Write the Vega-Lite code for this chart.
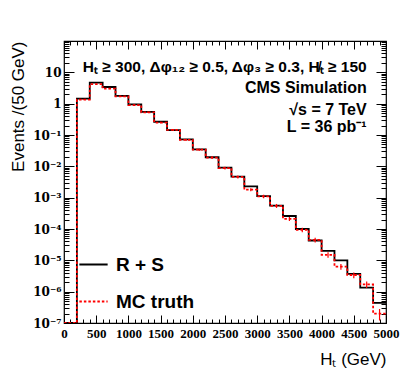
{
  "$schema": "https://vega.github.io/schema/vega-lite/v6.json",
  "width": 322,
  "height": 282,
  "autosize": "none",
  "padding": {"left": 64, "top": 41, "right": 21, "bottom": 54},
  "background": "white",
  "config": {
    "view": {"stroke": "black", "strokeWidth": 1.2},
    "axis": {"grid": false, "domain": false, "tickColor": "black", "tickWidth": 1}
  },
  "datasets": {
    "hist": [
      {"HT": 0, "events": 1e-9, "series": "R + S"},
      {"HT": 200, "events": 1.45, "series": "R + S"},
      {"HT": 400, "events": 4.7, "series": "R + S"},
      {"HT": 600, "events": 3.4, "series": "R + S"},
      {"HT": 800, "events": 1.76, "series": "R + S"},
      {"HT": 1000, "events": 0.95, "series": "R + S"},
      {"HT": 1200, "events": 0.55, "series": "R + S"},
      {"HT": 1400, "events": 0.265, "series": "R + S"},
      {"HT": 1600, "events": 0.144, "series": "R + S"},
      {"HT": 1800, "events": 0.073, "series": "R + S"},
      {"HT": 2000, "events": 0.035, "series": "R + S"},
      {"HT": 2200, "events": 0.0195, "series": "R + S"},
      {"HT": 2400, "events": 0.0091, "series": "R + S"},
      {"HT": 2600, "events": 0.0047, "series": "R + S"},
      {"HT": 2800, "events": 0.0023, "series": "R + S"},
      {"HT": 3000, "events": 0.00112, "series": "R + S"},
      {"HT": 3200, "events": 0.00056, "series": "R + S"},
      {"HT": 3400, "events": 0.00026, "series": "R + S"},
      {"HT": 3600, "events": 1.0e-4, "series": "R + S"},
      {"HT": 3800, "events": 4.3e-5, "series": "R + S"},
      {"HT": 4000, "events": 2.0e-5, "series": "R + S"},
      {"HT": 4200, "events": 1.0e-5, "series": "R + S"},
      {"HT": 4400, "events": 3.7e-6, "series": "R + S"},
      {"HT": 4600, "events": 1.35e-6, "series": "R + S"},
      {"HT": 4800, "events": 4.4e-7, "series": "R + S"},
      {"HT": 5000, "events": 4.4e-7, "series": "R + S"},
      {"HT": 0, "events": 1e-9, "series": "MC truth"},
      {"HT": 200, "events": 1.35, "series": "MC truth"},
      {"HT": 400, "events": 4.2, "series": "MC truth"},
      {"HT": 600, "events": 3.0, "series": "MC truth"},
      {"HT": 800, "events": 1.7, "series": "MC truth"},
      {"HT": 1000, "events": 0.9, "series": "MC truth"},
      {"HT": 1200, "events": 0.53, "series": "MC truth"},
      {"HT": 1400, "events": 0.25, "series": "MC truth"},
      {"HT": 1600, "events": 0.145, "series": "MC truth"},
      {"HT": 1800, "events": 0.07, "series": "MC truth"},
      {"HT": 2000, "events": 0.034, "series": "MC truth"},
      {"HT": 2200, "events": 0.019, "series": "MC truth"},
      {"HT": 2400, "events": 0.0088, "series": "MC truth"},
      {"HT": 2600, "events": 0.0046, "series": "MC truth"},
      {"HT": 2800, "events": 0.0018, "series": "MC truth"},
      {"HT": 3000, "events": 0.0011, "series": "MC truth"},
      {"HT": 3200, "events": 0.00055, "series": "MC truth"},
      {"HT": 3400, "events": 0.00021, "series": "MC truth"},
      {"HT": 3600, "events": 9.4e-5, "series": "MC truth"},
      {"HT": 3800, "events": 4.5e-5, "series": "MC truth"},
      {"HT": 4000, "events": 1.5e-5, "series": "MC truth"},
      {"HT": 4200, "events": 6.3e-6, "series": "MC truth"},
      {"HT": 4400, "events": 3.4e-6, "series": "MC truth"},
      {"HT": 4600, "events": 1.7e-6, "series": "MC truth"},
      {"HT": 4800, "events": 2.0e-7, "series": "MC truth"},
      {"HT": 5000, "events": 2.0e-7, "series": "MC truth"}
    ],
    "errs": [
      {"center": 300, "lo": 1.31, "hi": 1.39},
      {"center": 500, "lo": 4.08, "hi": 4.32},
      {"center": 700, "lo": 2.91, "hi": 3.09},
      {"center": 900, "lo": 1.63, "hi": 1.77},
      {"center": 1100, "lo": 0.86, "hi": 0.94},
      {"center": 1300, "lo": 0.5, "hi": 0.56},
      {"center": 1500, "lo": 0.235, "hi": 0.265},
      {"center": 1700, "lo": 0.135, "hi": 0.155},
      {"center": 1900, "lo": 0.065, "hi": 0.075},
      {"center": 2100, "lo": 0.031, "hi": 0.037},
      {"center": 2300, "lo": 0.017, "hi": 0.021},
      {"center": 2500, "lo": 0.0079, "hi": 0.0097},
      {"center": 2700, "lo": 0.0041, "hi": 0.0051},
      {"center": 2900, "lo": 0.0016, "hi": 0.002},
      {"center": 3100, "lo": 0.00096, "hi": 0.00124},
      {"center": 3300, "lo": 0.00047, "hi": 0.00063},
      {"center": 3500, "lo": 0.00018, "hi": 0.00024},
      {"center": 3700, "lo": 7.9e-5, "hi": 1.09e-4},
      {"center": 3900, "lo": 3.7e-5, "hi": 5.3e-5},
      {"center": 4100, "lo": 1.2e-5, "hi": 1.8e-5},
      {"center": 4300, "lo": 5.0e-6, "hi": 7.6e-6},
      {"center": 4500, "lo": 2.7e-6, "hi": 4.1e-6},
      {"center": 4700, "lo": 1.3e-6, "hi": 2.1e-6},
      {"center": 4900, "lo": 1.2e-7, "hi": 2.8e-7}
    ]
  },
  "layer": [
    {
      "data": {"name": "hist"},
      "mark": {"type": "line", "interpolate": "step-after", "strokeWidth": 1.8, "clip": true},
      "encoding": {
        "x": {
          "field": "HT", "type": "quantitative",
          "scale": {"domain": [0, 5000], "nice": false, "zero": false},
          "axis": {
            "orient": "bottom", "format": "d",
            "values": [0, 500, 1000, 1500, 2000, 2500, 3000, 3500, 4000, 4500, 5000],
            "tickSize": -8, "labelPadding": 12, "labelFont": "Liberation Serif", "labelFontWeight": "bold",
            "labelFontSize": 13, "labelColor": "black", "labelFlush": false, "labelOverlap": false,
            "title": "Hₜ (GeV)", "titleFont": "Liberation Sans", "titleFontWeight": "normal",
            "titleFontSize": 17, "titleColor": "black", "titleAnchor": "end", "titlePadding": 11
          }
        },
        "y": {
          "field": "events", "type": "quantitative",
          "scale": {"type": "log", "domain": [1e-7, 100], "nice": false, "clamp": true},
          "axis": {
            "orient": "left",
            "values": [1e-7, 1e-6, 1e-5, 1e-4, 0.001, 0.01, 0.1, 1, 10],
            "labelExpr": "datum.value > 5 ? '10' : datum.value > 0.5 ? '1' : '10' + ['⁻¹','⁻²','⁻³','⁻⁴','⁻⁵','⁻⁶','⁻⁷'][round(-log(datum.value)/LN10) - 1]",
            "tickSize": -10, "labelPadding": 13, "labelFont": "DejaVu Serif", "labelFontWeight": "bold",
            "labelFontSize": 12, "labelColor": "black", "labelFlush": false, "labelOverlap": false,
            "title": "Events /(50 GeV)", "titleFont": "Liberation Sans", "titleFontWeight": "normal",
            "titleFontSize": 17, "titleColor": "black", "titleAnchor": "end", "titlePadding": 5
          }
        },
        "color": {
          "field": "series", "type": "nominal",
          "scale": {"domain": ["R + S", "MC truth"], "range": ["black", "red"]},
          "legend": {
            "title": null, "orient": "none", "legendX": 14, "legendY": 208,
            "symbolType": "stroke", "symbolSize": 800, "symbolStrokeWidth": 2,
            "labelFont": "Liberation Sans", "labelFontWeight": "bold", "labelFontSize": 19,
            "labelColor": "black", "labelOffset": 7, "rowPadding": 11, "labelLimit": 300
          }
        },
        "strokeDash": {
          "field": "series", "type": "nominal",
          "scale": {"domain": ["R + S", "MC truth"], "range": [[1, 0], [2.5, 2]]}
        }
      }
    },
    {
      "data": {"name": "errs"},
      "mark": {"type": "rule", "color": "red", "strokeWidth": 1.2},
      "encoding": {
        "x": {
          "field": "center", "type": "quantitative",
          "axis": {"orient": "bottom", "values": [100,200,300,400,600,700,800,900,1100,1200,1300,1400,1600,1700,1800,1900,2100,2200,2300,2400,2600,2700,2800,2900,3100,3200,3300,3400,3600,3700,3800,3900,4100,4200,4300,4400,4600,4700,4800,4900], "tickSize": -4, "labels": false, "title": null}
        },
        "y": {
          "field": "lo", "type": "quantitative",
          "axis": {"orient": "left", "values": [2e-7,3e-7,4e-7,5e-7,6e-7,7e-7,8e-7,9e-7,2e-6,3e-6,4e-6,5e-6,6e-6,7e-6,8e-6,9e-6,2e-5,3e-5,4e-5,5e-5,6e-5,7e-5,8e-5,9e-5,2e-4,3e-4,4e-4,5e-4,6e-4,7e-4,8e-4,9e-4,0.002,0.003,0.004,0.005,0.006,0.007,0.008,0.009,0.02,0.03,0.04,0.05,0.06,0.07,0.08,0.09,0.2,0.3,0.4,0.5,0.6,0.7,0.8,0.9,2,3,4,5,6,7,8,9,20,30,40,50,60,70,80,90], "tickSize": -5, "labels": false, "title": null}
        },
        "y2": {"field": "hi"}
      }
    },
    {
      "data": {"name": "errs"},
      "mark": {"type": "point", "opacity": 0},
      "encoding": {
        "x": {
          "field": "center", "type": "quantitative",
          "axis": {"orient": "top", "values": [0, 500, 1000, 1500, 2000, 2500, 3000, 3500, 4000, 4500, 5000], "tickSize": -8, "labels": false, "title": null}
        },
        "y": {
          "field": "lo", "type": "quantitative",
          "axis": {"orient": "right", "values": [1e-7, 1e-6, 1e-5, 1e-4, 0.001, 0.01, 0.1, 1, 10], "tickSize": -10, "labels": false, "title": null}
        }
      }
    },
    {
      "data": {"name": "errs"},
      "mark": {"type": "point", "opacity": 0},
      "encoding": {
        "x": {
          "field": "center", "type": "quantitative",
          "axis": {"orient": "top", "values": [100,200,300,400,600,700,800,900,1100,1200,1300,1400,1600,1700,1800,1900,2100,2200,2300,2400,2600,2700,2800,2900,3100,3200,3300,3400,3600,3700,3800,3900,4100,4200,4300,4400,4600,4700,4800,4900], "tickSize": -4, "labels": false, "title": null}
        },
        "y": {
          "field": "lo", "type": "quantitative",
          "axis": {"orient": "right", "values": [2e-7,3e-7,4e-7,5e-7,6e-7,7e-7,8e-7,9e-7,2e-6,3e-6,4e-6,5e-6,6e-6,7e-6,8e-6,9e-6,2e-5,3e-5,4e-5,5e-5,6e-5,7e-5,8e-5,9e-5,2e-4,3e-4,4e-4,5e-4,6e-4,7e-4,8e-4,9e-4,0.002,0.003,0.004,0.005,0.006,0.007,0.008,0.009,0.02,0.03,0.04,0.05,0.06,0.07,0.08,0.09,0.2,0.3,0.4,0.5,0.6,0.7,0.8,0.9,2,3,4,5,6,7,8,9,20,30,40,50,60,70,80,90], "tickSize": -5, "labels": false, "title": null}
        }
      }
    },
    {
      "data": {"values": [{"label": "Hₜ ≥ 300, Δφ₁₂ ≥ 0.5, Δφ₃ ≥ 0.3, H̸ₜ ≥ 150"}]},
      "mark": {"type": "text", "align": "right", "baseline": "middle", "font": "Liberation Sans", "fontWeight": "bold", "fontSize": 15.5, "color": "black"},
      "encoding": {
        "x": {"datum": 4700, "type": "quantitative", "axis": null},
        "y": {"datum": 15, "type": "quantitative", "axis": null},
        "text": {"field": "label"}
      }
    },
    {
      "data": {"values": [{"label": "CMS Simulation"}]},
      "mark": {"type": "text", "align": "right", "baseline": "middle", "font": "Liberation Sans", "fontWeight": "bold", "fontSize": 16, "color": "black"},
      "encoding": {
        "x": {"datum": 4700, "type": "quantitative", "axis": null},
        "y": {"datum": 3.1, "type": "quantitative", "axis": null},
        "text": {"field": "label"}
      }
    },
    {
      "data": {"values": [{"label": "√s = 7 TeV"}]},
      "mark": {"type": "text", "align": "right", "baseline": "middle", "font": "Liberation Sans", "fontWeight": "bold", "fontSize": 16, "color": "black"},
      "encoding": {
        "x": {"datum": 4700, "type": "quantitative", "axis": null},
        "y": {"datum": 0.63, "type": "quantitative", "axis": null},
        "text": {"field": "label"}
      }
    },
    {
      "data": {"values": [{"label": "L = 36 pb⁻¹"}]},
      "mark": {"type": "text", "align": "right", "baseline": "middle", "font": "Liberation Sans", "fontWeight": "bold", "fontSize": 16, "color": "black"},
      "encoding": {
        "x": {"datum": 4700, "type": "quantitative", "axis": null},
        "y": {"datum": 0.177, "type": "quantitative", "axis": null},
        "text": {"field": "label"}
      }
    }
  ],
  "resolve": {"axis": {"x": "independent", "y": "independent"}}
}
